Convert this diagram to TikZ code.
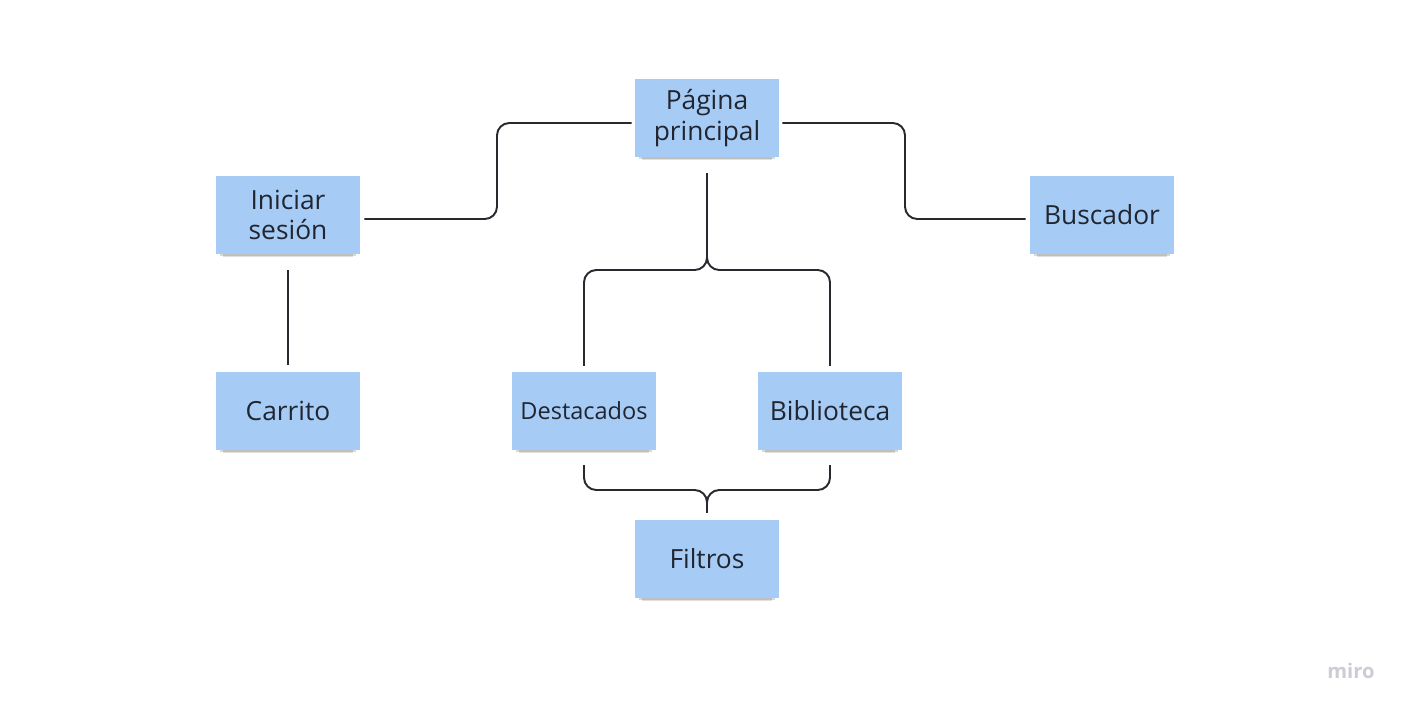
\documentclass[tikz,border=0pt]{standalone}
\usepackage{fontspec}
\setmainfont{Open Sans}
\usetikzlibrary{shadows}
\definecolor{notefill}{RGB}{166,204,245}
\definecolor{notetext}{RGB}{33,37,48}
\definecolor{linkcol}{RGB}{40,40,46}
\definecolor{logocol}{RGB}{204,204,210}

\begin{document}
\begin{tikzpicture}[x=0.02cm,y=-0.02cm,
    every node/.style={align=center,text=notetext,font=\fontsize{15}{17.5}\selectfont},
    note/.style={fill=notefill,minimum width=2.88cm,minimum height=1.55cm,inner sep=0pt,
      drop shadow={shadow scale=0.9,shadow xshift=0pt,shadow yshift=-4.5pt,opacity=0.12,fill=black},
      drop shadow={shadow scale=0.95,shadow xshift=0pt,shadow yshift=-2.5pt,opacity=0.15,fill=black}},
    link/.style={draw=linkcol,line width=1.1pt,rounded corners=7pt}]
  \useasboundingbox (0,0) rectangle (1406,710);
  % sticky notes
  \node[note] (pag) at (707,118) {Página\\principal};
  \node[note] (ini) at (288,215) {Iniciar\\sesión};
  \node[note] (bus) at (1102,215) {Buscador};
  \node[note] (car) at (288,411) {Carrito};
  \node[note,font=\fontsize{13.4}{15}\selectfont] (des) at (584,411) {Destacados};
  \node[note] (bib) at (830,411) {Biblioteca};
  \node[note] (fil) at (707,559) {Filtros};
  \node[font=\bfseries\fontsize{11.5}{12}\selectfont,text=logocol] (logo) at (1351,671) {miro};
  % bends
  \coordinate (lbend) at (497,123);
  \coordinate (rbend) at (905,123);
  \coordinate (topfork) at (707,270);
  \coordinate (lowfork) at (707,490);
  % connectors
  \draw[link] ([shift={(-3,5)}]pag.west) -- (lbend) |- ([shift={(4,4)}]ini.east);
  \draw[link] ([shift={(3,5)}]pag.east) -- (rbend) |- ([shift={(-4,4)}]bus.west);
  \draw[link] ([shift={(0,16)}]ini.south) -- ([shift={(0,-7)}]car.north);
  \draw[link] ([shift={(0,16)}]pag.south) -- (topfork) -| ([shift={(0,-6)}]des.north);
  \draw[link] ([shift={(0,16)}]pag.south) -- (topfork) -| ([shift={(0,-6)}]bib.north);
  \draw[link] ([shift={(0,15)}]des.south) |- (lowfork) -- ([shift={(0,-7)}]fil.north);
  \draw[link] ([shift={(0,15)}]bib.south) |- (lowfork) -- ([shift={(0,-7)}]fil.north);
\end{tikzpicture}
\end{document}
